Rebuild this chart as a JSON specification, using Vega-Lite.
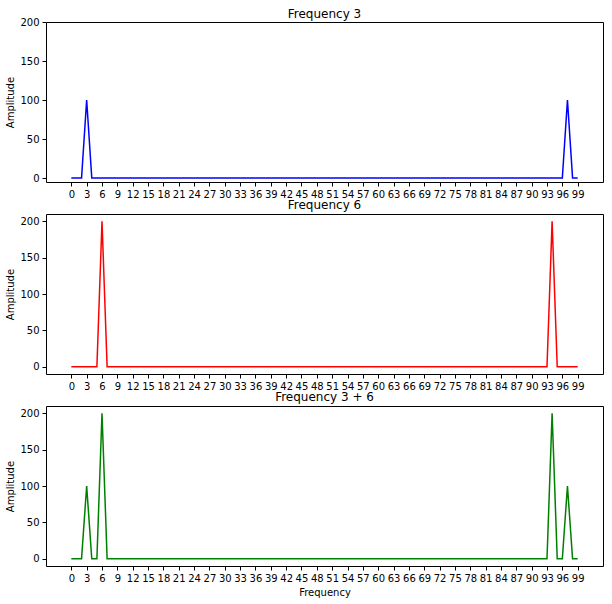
{
  "$schema": "https://vega.github.io/schema/vega-lite/v6.json",
  "padding": {"left": 5, "top": 7, "right": 8, "bottom": 0},
  "background": "white",
  "spacing": -2,
  "config": {
    "font": "DejaVu Sans",
    "view": {"stroke": "black", "strokeWidth": 1},
    "axis": {"grid": false, "domain": false, "tickColor": "black", "tickSize": 4, "labelColor": "black", "labelFontSize": 10, "labelFont": "DejaVu Sans", "titleFont": "DejaVu Sans", "titleFontSize": 10, "titleFontWeight": "normal", "titleColor": "black", "labelPadding": 3},
    "title": {"font": "DejaVu Sans", "fontSize": 12, "fontWeight": "normal", "color": "black", "offset": -4}
  },
  "datasets": {
    "spec": [
      {"f":0,"a":0,"b":0,"c":0},{"f":1,"a":0,"b":0,"c":0},{"f":2,"a":0,"b":0,"c":0},{"f":3,"a":100,"b":0,"c":100},{"f":4,"a":0,"b":0,"c":0},
      {"f":5,"a":0,"b":0,"c":0},{"f":6,"a":0,"b":200,"c":200},{"f":7,"a":0,"b":0,"c":0},{"f":8,"a":0,"b":0,"c":0},{"f":9,"a":0,"b":0,"c":0},
      {"f":10,"a":0,"b":0,"c":0},{"f":11,"a":0,"b":0,"c":0},{"f":12,"a":0,"b":0,"c":0},{"f":13,"a":0,"b":0,"c":0},{"f":14,"a":0,"b":0,"c":0},
      {"f":15,"a":0,"b":0,"c":0},{"f":16,"a":0,"b":0,"c":0},{"f":17,"a":0,"b":0,"c":0},{"f":18,"a":0,"b":0,"c":0},{"f":19,"a":0,"b":0,"c":0},
      {"f":20,"a":0,"b":0,"c":0},{"f":21,"a":0,"b":0,"c":0},{"f":22,"a":0,"b":0,"c":0},{"f":23,"a":0,"b":0,"c":0},{"f":24,"a":0,"b":0,"c":0},
      {"f":25,"a":0,"b":0,"c":0},{"f":26,"a":0,"b":0,"c":0},{"f":27,"a":0,"b":0,"c":0},{"f":28,"a":0,"b":0,"c":0},{"f":29,"a":0,"b":0,"c":0},
      {"f":30,"a":0,"b":0,"c":0},{"f":31,"a":0,"b":0,"c":0},{"f":32,"a":0,"b":0,"c":0},{"f":33,"a":0,"b":0,"c":0},{"f":34,"a":0,"b":0,"c":0},
      {"f":35,"a":0,"b":0,"c":0},{"f":36,"a":0,"b":0,"c":0},{"f":37,"a":0,"b":0,"c":0},{"f":38,"a":0,"b":0,"c":0},{"f":39,"a":0,"b":0,"c":0},
      {"f":40,"a":0,"b":0,"c":0},{"f":41,"a":0,"b":0,"c":0},{"f":42,"a":0,"b":0,"c":0},{"f":43,"a":0,"b":0,"c":0},{"f":44,"a":0,"b":0,"c":0},
      {"f":45,"a":0,"b":0,"c":0},{"f":46,"a":0,"b":0,"c":0},{"f":47,"a":0,"b":0,"c":0},{"f":48,"a":0,"b":0,"c":0},{"f":49,"a":0,"b":0,"c":0},
      {"f":50,"a":0,"b":0,"c":0},{"f":51,"a":0,"b":0,"c":0},{"f":52,"a":0,"b":0,"c":0},{"f":53,"a":0,"b":0,"c":0},{"f":54,"a":0,"b":0,"c":0},
      {"f":55,"a":0,"b":0,"c":0},{"f":56,"a":0,"b":0,"c":0},{"f":57,"a":0,"b":0,"c":0},{"f":58,"a":0,"b":0,"c":0},{"f":59,"a":0,"b":0,"c":0},
      {"f":60,"a":0,"b":0,"c":0},{"f":61,"a":0,"b":0,"c":0},{"f":62,"a":0,"b":0,"c":0},{"f":63,"a":0,"b":0,"c":0},{"f":64,"a":0,"b":0,"c":0},
      {"f":65,"a":0,"b":0,"c":0},{"f":66,"a":0,"b":0,"c":0},{"f":67,"a":0,"b":0,"c":0},{"f":68,"a":0,"b":0,"c":0},{"f":69,"a":0,"b":0,"c":0},
      {"f":70,"a":0,"b":0,"c":0},{"f":71,"a":0,"b":0,"c":0},{"f":72,"a":0,"b":0,"c":0},{"f":73,"a":0,"b":0,"c":0},{"f":74,"a":0,"b":0,"c":0},
      {"f":75,"a":0,"b":0,"c":0},{"f":76,"a":0,"b":0,"c":0},{"f":77,"a":0,"b":0,"c":0},{"f":78,"a":0,"b":0,"c":0},{"f":79,"a":0,"b":0,"c":0},
      {"f":80,"a":0,"b":0,"c":0},{"f":81,"a":0,"b":0,"c":0},{"f":82,"a":0,"b":0,"c":0},{"f":83,"a":0,"b":0,"c":0},{"f":84,"a":0,"b":0,"c":0},
      {"f":85,"a":0,"b":0,"c":0},{"f":86,"a":0,"b":0,"c":0},{"f":87,"a":0,"b":0,"c":0},{"f":88,"a":0,"b":0,"c":0},{"f":89,"a":0,"b":0,"c":0},
      {"f":90,"a":0,"b":0,"c":0},{"f":91,"a":0,"b":0,"c":0},{"f":92,"a":0,"b":0,"c":0},{"f":93,"a":0,"b":0,"c":0},{"f":94,"a":0,"b":200,"c":200},
      {"f":95,"a":0,"b":0,"c":0},{"f":96,"a":0,"b":0,"c":0},{"f":97,"a":100,"b":0,"c":100},{"f":98,"a":0,"b":0,"c":0},{"f":99,"a":0,"b":0,"c":0}
    ]
  },
  "vconcat": [
    {
      "title": "Frequency 3",
      "width": 557, "height": 160,
      "data": {"name": "spec"},
      "mark": {"type": "line", "color": "#0000ff", "strokeWidth": 1.5},
      "encoding": {
        "x": {"field": "f", "type": "quantitative", "scale": {"domain": [-4.95, 103.95], "nice": false, "zero": false}, "axis": {"title": null, "values": [0,3,6,9,12,15,18,21,24,27,30,33,36,39,42,45,48,51,54,57,60,63,66,69,72,75,78,81,84,87,90,93,96,99], "labelFlush": false, "labelOverlap": false}},
        "y": {"field": "a", "type": "quantitative", "scale": {"domain": [-5, 200], "nice": false}, "axis": {"title": "Amplitude", "values": [0,50,100,150,200]}}
      }
    },
    {
      "title": {"text": "Frequency 6", "dy": -6},
      "width": 557, "height": 160,
      "data": {"name": "spec"},
      "mark": {"type": "line", "color": "#ff0000", "strokeWidth": 1.5},
      "encoding": {
        "x": {"field": "f", "type": "quantitative", "scale": {"domain": [-4.95, 103.95], "nice": false, "zero": false}, "axis": {"title": null, "values": [0,3,6,9,12,15,18,21,24,27,30,33,36,39,42,45,48,51,54,57,60,63,66,69,72,75,78,81,84,87,90,93,96,99], "labelFlush": false, "labelOverlap": false}},
        "y": {"field": "b", "type": "quantitative", "scale": {"domain": [-10, 210], "nice": false}, "axis": {"title": "Amplitude", "values": [0,50,100,150,200]}}
      }
    },
    {
      "title": {"text": "Frequency 3 + 6", "dy": -6},
      "width": 557, "height": 160,
      "data": {"name": "spec"},
      "mark": {"type": "line", "color": "#008000", "strokeWidth": 1.5},
      "encoding": {
        "x": {"field": "f", "type": "quantitative", "scale": {"domain": [-4.95, 103.95], "nice": false, "zero": false}, "axis": {"title": "Frequency", "values": [0,3,6,9,12,15,18,21,24,27,30,33,36,39,42,45,48,51,54,57,60,63,66,69,72,75,78,81,84,87,90,93,96,99], "labelFlush": false, "labelOverlap": false}},
        "y": {"field": "c", "type": "quantitative", "scale": {"domain": [-10, 210], "nice": false}, "axis": {"title": "Amplitude", "values": [0,50,100,150,200]}}
      }
    }
  ]
}
